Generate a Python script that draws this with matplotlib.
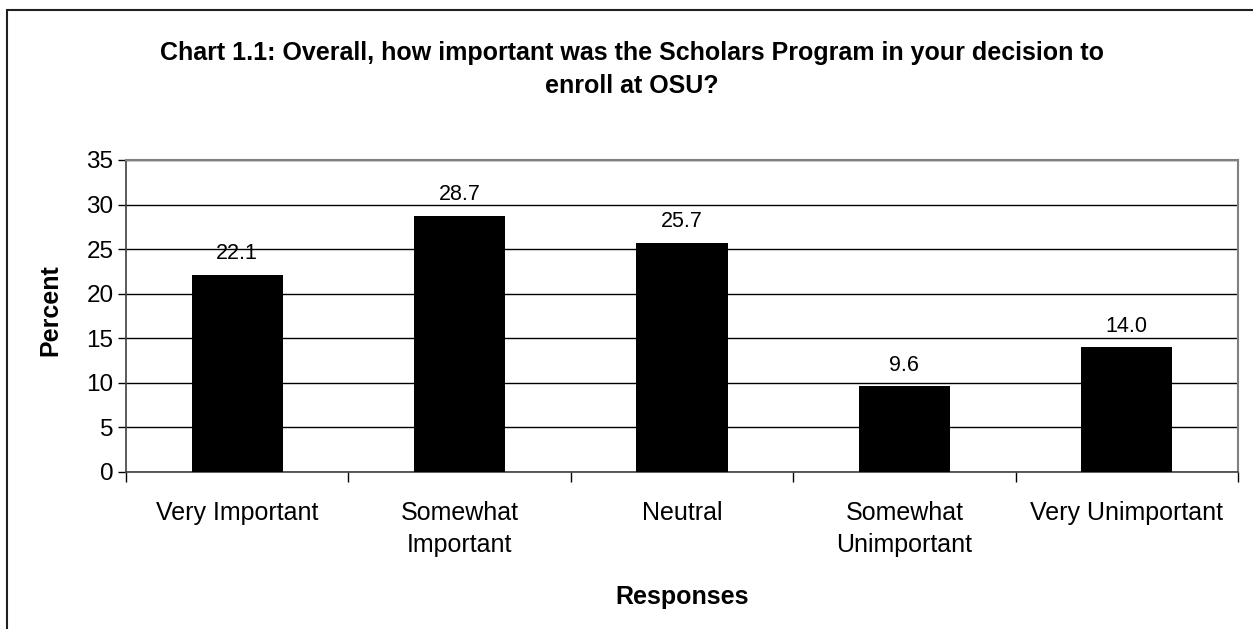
import numpy as np
import matplotlib.pyplot as plt
from matplotlib.patches import Rectangle

plt.rcParams['font.family'] = ['Liberation Sans', 'DejaVu Sans']

categories = ['Very Important', 'Somewhat\nImportant', 'Neutral',
              'Somewhat\nUnimportant', 'Very Unimportant']
percent = [22.1, 28.7, 25.7, 9.6, 14.0]
y_ticks = [0, 5, 10, 15, 20, 25, 30, 35]

W, H = 1253, 629
fig = plt.figure(figsize=(W / 100, H / 100), dpi=100)

# plot area in pixels: left 126, right 1238, top 160, bottom 472
ax = fig.add_axes([126 / W, 1 - 472 / H, (1238 - 126) / W, (472 - 160) / H])

x = np.arange(len(categories))
ax.bar(x, percent, width=0.41, color='black', zorder=3)
for xi, v in zip(x, percent):
    ax.text(xi, v + 1.2, '%.1f' % v, ha='center', va='bottom', fontsize=15.5)

ax.set_xlim(-0.5, len(categories) - 0.5)
ax.set_ylim(0, 35)
ax.set_yticks(y_ticks)
ax.tick_params(axis='y', labelsize=17.5, length=6, width=1, direction='out', pad=3)
ax.yaxis.grid(True, color='black', linewidth=1)
ax.set_axisbelow(True)

# category labels centred, ticks at category boundaries
ax.set_xticks(x)
ax.set_xticklabels(categories, fontsize=18, linespacing=1.4, va='top')
ax.tick_params(axis='x', length=0, pad=21)
ax.set_xticks(np.arange(-0.5, len(categories)), minor=True)
ax.tick_params(axis='x', which='minor', length=7, width=1, direction='out')

for side in ['top', 'right']:
    ax.spines[side].set_color('#808080')
    ax.spines[side].set_linewidth(1.5)
for side in ['left', 'bottom']:
    ax.spines[side].set_color('#404040')
    ax.spines[side].set_linewidth(1.2)

fig.text(50 / W, 1 - 310 / H, 'Percent', rotation=90, ha='center', va='center',
         fontsize=18, fontweight='bold')
fig.text(682 / W, 1 - 597 / H, 'Responses', ha='center', va='center',
         fontsize=18, fontweight='bold')
fig.text(632 / W, 1 - 69.5 / H,
         'Chart 1.1: Overall, how important was the Scholars Program in your decision to\nenroll at OSU?',
         ha='center', va='center', fontsize=18, fontweight='bold', linespacing=1.45)

# outer chart frame
fig.patches.append(Rectangle((7 / W, -0.1), 1.2, 1 - 10 / H + 0.1,
                             transform=fig.transFigure, fill=False,
                             edgecolor='#202020', linewidth=1.5))

plt.savefig('out.png', dpi=100)
